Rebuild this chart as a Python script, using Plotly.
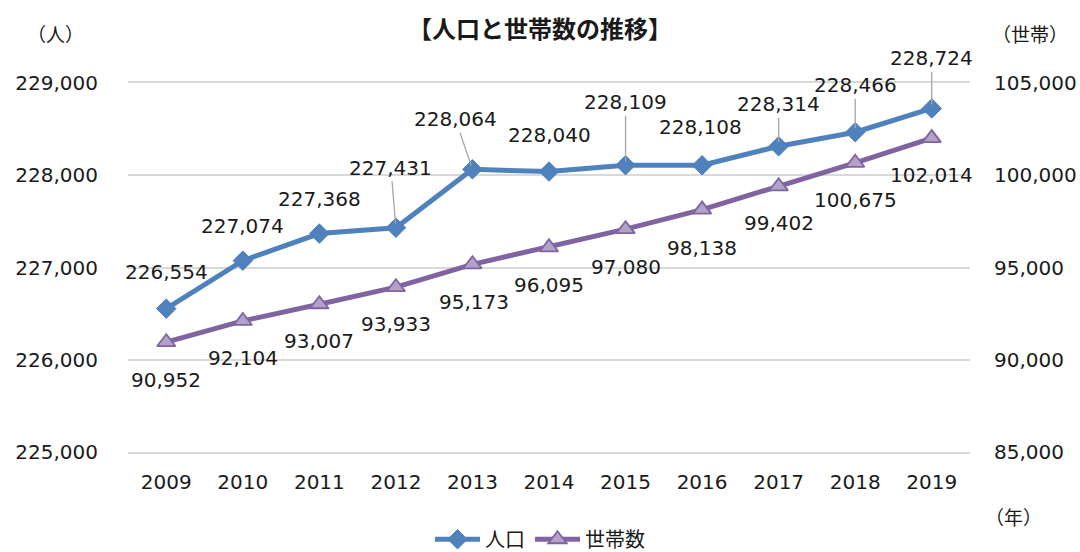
import plotly.graph_objects as go

years = [2009, 2010, 2011, 2012, 2013, 2014, 2015, 2016, 2017, 2018, 2019]
population = [226554, 227074, 227368, 227431, 228064, 228040, 228109, 228108, 228314, 228466, 228724]
households = [90952, 92104, 93007, 93933, 95173, 96095, 97080, 98138, 99402, 100675, 102014]

left_ticks = [225000, 226000, 227000, 228000, 229000]
right_ticks = [85000, 90000, 95000, 100000, 105000]

# label offsets in pixels (style)
pop_ax = [0, 0, 0, -5, -17, 0, 0, -2, 0, 0, 0]
pop_ay = [-37, -35, -35, -60, -50, -37, -63, -38, -42, -47, -50]
pop_leader = [False, False, False, True, True, False, True, False, True, True, True]
hh_ax = [0, 0, 0, 0, 2, 0, 0, 0, 0, 0, 0]
hh_ay = [38, 37, 37, 37, 38, 38, 38, 38, 37, 37, 37]

BLUE = "#4F81BD"
PURPLE = "#8064A2"
TRI_FILL = "#B3A2C7"
GRID = "#D9D9D9"
NUMFONT = "DejaVu Sans, Verdana, sans-serif"
JPFONT = "Noto Sans CJK JP, sans-serif"
TXT = "#1a1a1a"

W, H = 1080, 552
L, R, T, B = 128, 110, 82.5, 99.5
PW, PH = W - L - R, H - T - B

fig = go.Figure()
fig.add_trace(go.Scatter(
    x=years, y=population, name="人口", mode="lines+markers",
    line=dict(color=BLUE, width=5),
    marker=dict(symbol="diamond", size=15, color=BLUE, line=dict(color=BLUE, width=1)),
    yaxis="y",
))
fig.add_trace(go.Scatter(
    x=years, y=households, name="世帯数", mode="lines+markers",
    line=dict(color=PURPLE, width=5),
    marker=dict(symbol="triangle-up", size=16, color=TRI_FILL, line=dict(color=PURPLE, width=1.8)),
    yaxis="y2",
))

annotations = []
for i, (yr, v) in enumerate(zip(years, population)):
    annotations.append(dict(
        x=yr, y=v, xref="x", yref="y", text=f"{v:,}",
        showarrow=True, arrowhead=0, arrowwidth=1.3,
        arrowcolor="#A6A6A6" if pop_leader[i] else "rgba(0,0,0,0)",
        ax=pop_ax[i], ay=pop_ay[i], standoff=4,
        font=dict(family=NUMFONT, size=20, color=TXT),
    ))
for i, (yr, v) in enumerate(zip(years, households)):
    annotations.append(dict(
        x=yr, y=v, xref="x", yref="y2", text=f"{v:,}",
        showarrow=True, arrowhead=0, arrowcolor="rgba(0,0,0,0)",
        ax=hh_ax[i], ay=hh_ay[i],
        font=dict(family=NUMFONT, size=20, color=TXT),
    ))


def paper_xy(px, py):
    return (px - L) / PW, 1 - (py - T) / PH


for txt, px, py in [("（人）", 55, 33), ("（世帯）", 1030, 33), ("（年）", 1013, 517)]:
    x, y = paper_xy(px, py)
    annotations.append(dict(text=txt, xref="paper", yref="paper", x=x, y=y,
                            xanchor="center", yanchor="middle", showarrow=False,
                            font=dict(family=JPFONT, size=19, color=TXT)))

fig.update_layout(
    width=W, height=H,
    margin=dict(l=L, r=R, t=T, b=B, autoexpand=False),
    paper_bgcolor="white", plot_bgcolor="white",
    title=dict(text="<b>【人口と世帯数の推移】</b>", x=0.5, xanchor="center",
               y=1 - 30 / H, yanchor="middle",
               font=dict(family=JPFONT, size=24, color=TXT)),
    xaxis=dict(range=[2008.5, 2019.5], tickvals=years, tickformat="d",
               showgrid=False, zeroline=False, ticks="", ticklabelstandoff=11,
               showline=True, mirror=True, linecolor=GRID, linewidth=1.5,
               tickfont=dict(family=NUMFONT, size=20, color=TXT)),
    yaxis=dict(range=[225000, 229000], tickvals=left_ticks, tickformat=",d",
               showgrid=True, gridcolor=GRID, gridwidth=1.5, zeroline=False,
               showline=False, ticks="", ticklabelstandoff=29,
               tickfont=dict(family=NUMFONT, size=20, color=TXT)),
    yaxis2=dict(range=[85000, 105000], tickvals=right_ticks, tickformat=",d",
                overlaying="y", side="right", showgrid=False, zeroline=False,
                showline=False, ticks="", ticklabelstandoff=23,
                tickfont=dict(family=NUMFONT, size=20, color=TXT)),
    legend=dict(orientation="h", x=(540 - L) / PW, xanchor="center",
                y=-(540 - (H - B)) / PH, yanchor="middle",
                font=dict(family=JPFONT, size=20, color=TXT),
                bgcolor="rgba(0,0,0,0)", itemwidth=45),
    annotations=annotations,
    showlegend=True,
)

fig.write_html("out.html", config={"displayModeBar": False},
               post_script="document.body.style.margin='0';document.body.style.overflow='hidden';")
